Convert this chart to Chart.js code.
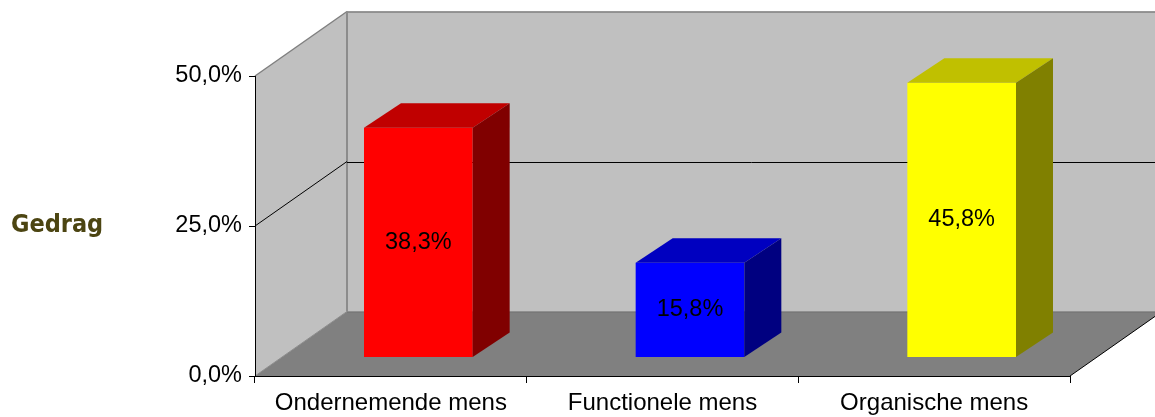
<!DOCTYPE html>
<html><head><meta charset="utf-8">
<script src="https://cdn.jsdelivr.net/npm/chart.js@4.4.1/dist/chart.umd.min.js"></script>
<style>html,body{margin:0;padding:0;background:#fff;}#wrap{width:1155px;height:417px;position:relative;}</style>
</head><body><div id="wrap"><canvas id="c"></canvas></div>
<script>
const categories = ['Ondernemende mens', 'Functionele mens', 'Organische mens'];
const values = [38.3, 15.8, 45.8];
const seriesName = 'Gedrag';
const yTickValues = [0, 25, 50];
const barColors = ['#ff0000', '#0000ff', '#ffff00'];
const topColors = ['#c00000', '#0000c0', '#c0c000'];
const sideColors = ['#800000', '#000080', '#808000'];

const fmt = v => v.toFixed(1).replace('.', ',') + '%';

const DEPTH = {x: 92, y: -64.5};
const BAR_SHIFT = {x: 27.5, y: -18.5};
const BAR_DEPTH = {x: 37, y: -24.5};

Chart.defaults.font.family = "'Liberation Sans', Arial, sans-serif";
Chart.defaults.font.size = 23.5;
Chart.defaults.color = '#000';

function poly(ctx, pts, fill) {
  ctx.beginPath();
  ctx.moveTo(pts[0][0], pts[0][1]);
  for (let i = 1; i < pts.length; i++) ctx.lineTo(pts[i][0], pts[i][1]);
  ctx.closePath();
  ctx.fillStyle = fill;
  ctx.fill();
}
function line(ctx, x1, y1, x2, y2, color, w) {
  ctx.beginPath();
  ctx.moveTo(x1, y1); ctx.lineTo(x2, y2);
  ctx.strokeStyle = color; ctx.lineWidth = w || 1;
  ctx.stroke();
}

const scene3d = {
  id: 'scene3d',
  beforeDraw(chart) {
    const {ctx, chartArea: a, scales: {y}} = chart;
    const L = a.left, R = a.right;
    const y0 = y.getPixelForValue(yTickValues[0]);
    const yMid = y.getPixelForValue(yTickValues[1]);
    const yTop = y.getPixelForValue(yTickValues[2]);
    const dx = DEPTH.x, dy = DEPTH.y;
    ctx.save();
    // left wall
    poly(ctx, [[L, yTop], [L + dx, yTop + dy], [L + dx, y0 + dy], [L, y0]], '#c0c0c0');
    // back wall
    poly(ctx, [[L + dx, yTop + dy], [R + dx, yTop + dy], [R + dx, y0 + dy], [L + dx, y0 + dy]], '#c0c0c0');
    // floor
    poly(ctx, [[L, y0], [R, y0], [R + dx, y0 + dy], [L + dx, y0 + dy]], '#808080');
    // edges
    line(ctx, L, yTop, L + dx, yTop + dy, '#808080', 1.5);
    line(ctx, L + dx, yTop + dy + 0.5, R + dx, yTop + dy + 0.5, '#808080', 1.5);
    line(ctx, L + dx, yTop + dy, L + dx, y0 + dy, '#8c8c8c', 2);
    line(ctx, L + dx, y0 + dy + 0.5, R + dx, y0 + dy + 0.5, '#707070', 1);
    line(ctx, L, y0, L + dx, y0 + dy, '#8c8c8c', 1);
    line(ctx, R, y0, R + dx, y0 + dy, '#000', 1);
    // gridline 25%
    line(ctx, L, yMid, L + dx, yMid + dy, '#000', 1);
    line(ctx, L + dx, Math.round(yMid + dy) + 0.5, R + dx, Math.round(yMid + dy) + 0.5, '#000', 1);
    // series name
    ctx.font = "bold 25px 'DejaVu Sans Condensed', 'DejaVu Sans', Tahoma, sans-serif";
    ctx.fillStyle = '#4c4512';
    ctx.textAlign = 'left';
    ctx.textBaseline = 'middle';
    ctx.fillText(seriesName, 11, yMid - 1);
    ctx.restore();
  },
  beforeDatasetsDraw(chart) {
    chart.ctx.save();
    chart.ctx.translate(BAR_SHIFT.x, BAR_SHIFT.y);
  },
  afterDatasetsDraw(chart) {
    const ctx = chart.ctx;
    const meta = chart.getDatasetMeta(0);
    const bx = BAR_DEPTH.x, by = BAR_DEPTH.y;
    meta.data.forEach((el, i) => {
      const p = el.getProps(['x', 'y', 'base', 'width'], true);
      const l = p.x - p.width / 2, r = p.x + p.width / 2, t = p.y, b = p.base;
      poly(ctx, [[l, t], [l + bx, t + by], [r + bx, t + by], [r, t]], topColors[i]);
      poly(ctx, [[r, t], [r + bx, t + by], [r + bx, b + by], [r, b]], sideColors[i]);
      ctx.font = "23.5px 'Liberation Sans', Arial, sans-serif";
      ctx.fillStyle = '#000';
      ctx.textAlign = 'center';
      ctx.textBaseline = 'middle';
      ctx.fillText(fmt(values[i]), p.x, (t + b) / 2);
    });
    ctx.restore();
  }
};

new Chart(document.getElementById('c'), {
  type: 'bar',
  data: {
    labels: categories,
    datasets: [{
      label: seriesName,
      data: values,
      backgroundColor: barColors,
      borderWidth: 0,
      categoryPercentage: 1,
      barPercentage: 0.4,
      clip: false
    }]
  },
  options: {
    responsive: true,
    maintainAspectRatio: false,
    animation: false,
    layout: {padding: {left: 0, right: 85, top: 76, bottom: 0}},
    plugins: {legend: {display: false}, tooltip: {enabled: false}, title: {display: false}},
    scales: {
      x: {
        grid: {display: true, drawOnChartArea: false, drawTicks: true, tickLength: 7, color: '#000', offset: true},
        border: {display: true, color: '#000', width: 1},
        ticks: {padding: 6, maxRotation: 0, autoSkip: false, font: {size: 24}},
        afterFit: s => { s.height = 41; }
      },
      y: {
        min: 0, max: 50,
        afterBuildTicks: s => { s.ticks = yTickValues.map(v => ({value: v})); },
        grid: {display: true, drawOnChartArea: false, drawTicks: true, tickLength: 6, color: '#000'},
        border: {display: true, color: '#000', width: 1},
        ticks: {padding: 7, callback: v => fmt(v)},
        afterFit: s => { s.width = 255; }
      }
    }
  },
  plugins: [scene3d]
});
</script>
</body></html>
